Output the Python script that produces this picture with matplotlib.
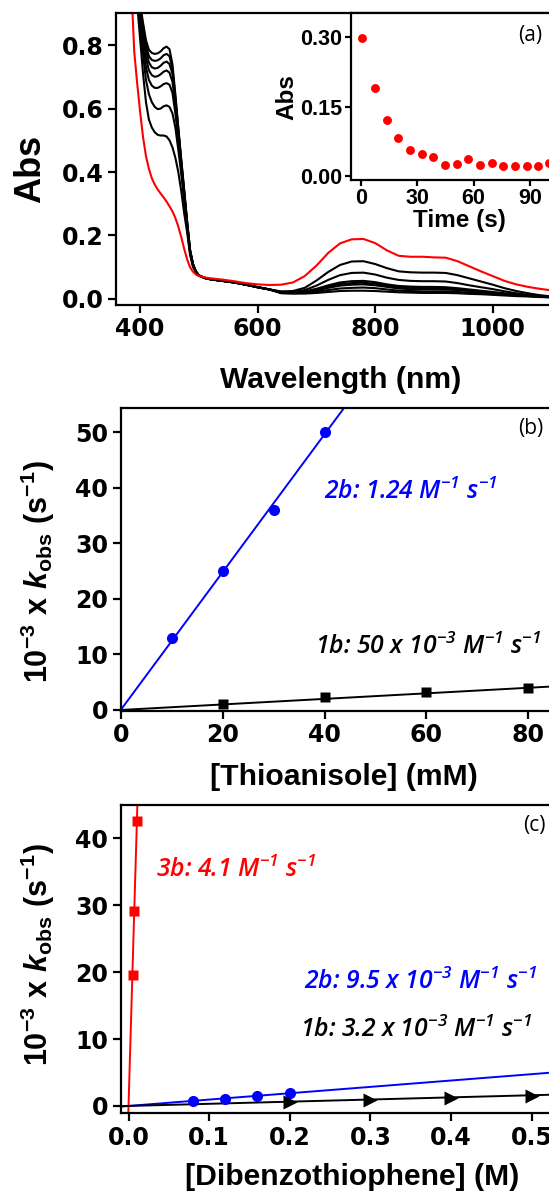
import numpy as np
import matplotlib
matplotlib.use("Agg")
import matplotlib.pyplot as plt

plt.rcParams['font.family'] = ['Liberation Sans', 'DejaVu Sans']
plt.rcParams['mathtext.fontset'] = 'custom'
plt.rcParams['mathtext.rm'] = 'Open Sans:italic:semibold'
plt.rcParams['mathtext.it'] = 'Open Sans:italic:semibold'
plt.rcParams['mathtext.bf'] = 'Liberation Sans:bold'
plt.rcParams['mathtext.sf'] = 'Liberation Sans:bold:italic'

# ---------------- (a) spectra ----------------
wl_uv = [380, 390, 395, 400, 405, 410, 415, 420, 425, 430, 435, 440, 445, 450,
         455, 460, 465, 470, 475, 480, 485, 490]
wl_mid = [495, 500, 510, 520, 540, 560, 580, 600, 620]
wl_nir = [640, 660, 680, 700, 720, 740, 760, 780, 800, 820, 840, 860, 880, 900,
          920, 940, 960, 980, 1000, 1020, 1040, 1060, 1080, 1100, 1150]

red_uv = [1.20, 0.78, 0.68, 0.59, 0.51, 0.45, 0.41, 0.38, 0.36, 0.345, 0.332, 0.32,
          0.307, 0.292, 0.276, 0.255, 0.228, 0.195, 0.158, 0.125, 0.10, 0.086]
red_mid = [0.077, 0.072, 0.068, 0.065, 0.061, 0.056, 0.050, 0.046, 0.044]
red_nir = [0.045, 0.052, 0.072, 0.105, 0.145, 0.175, 0.188, 0.189, 0.176, 0.153,
           0.136, 0.133, 0.133, 0.131, 0.130, 0.119, 0.103, 0.087, 0.072, 0.057,
           0.046, 0.038, 0.032, 0.027, 0.021]

black_uv = [
    [1.30, 1.10, 1.02, 0.93, 0.87, 0.815, 0.785, 0.775, 0.772, 0.774, 0.78, 0.79,
     0.795, 0.787, 0.74, 0.645, 0.54, 0.44, 0.345, 0.245, 0.155, 0.11],
    [1.30, 1.10, 1.01, 0.92, 0.86, 0.80, 0.765, 0.753, 0.75, 0.752, 0.758, 0.768,
     0.772, 0.765, 0.725, 0.635, 0.535, 0.435, 0.34, 0.243, 0.154, 0.11],
    [1.30, 1.09, 1.00, 0.91, 0.85, 0.785, 0.745, 0.73, 0.726, 0.728, 0.735, 0.744,
     0.748, 0.74, 0.71, 0.625, 0.53, 0.43, 0.335, 0.24, 0.152, 0.109],
    [1.30, 1.08, 0.99, 0.90, 0.84, 0.76, 0.72, 0.705, 0.70, 0.702, 0.708, 0.716,
     0.72, 0.713, 0.685, 0.61, 0.52, 0.425, 0.33, 0.235, 0.15, 0.108],
    [1.30, 1.07, 0.98, 0.88, 0.80, 0.73, 0.69, 0.672, 0.665, 0.665, 0.67, 0.677,
     0.68, 0.675, 0.65, 0.585, 0.50, 0.41, 0.32, 0.23, 0.148, 0.107],
    [1.30, 1.06, 0.96, 0.86, 0.77, 0.69, 0.645, 0.62, 0.605, 0.598, 0.60, 0.607,
     0.61, 0.605, 0.585, 0.54, 0.47, 0.395, 0.31, 0.225, 0.145, 0.105],
    [1.30, 1.04, 0.93, 0.82, 0.71, 0.62, 0.565, 0.54, 0.525, 0.517, 0.515, 0.515,
     0.512, 0.50, 0.478, 0.445, 0.40, 0.34, 0.27, 0.21, 0.14, 0.10],
]
black_mid = [0.086, 0.074, 0.066, 0.062, 0.057, 0.052, 0.045, 0.037, 0.030]
black_nir = [
    [0.018, 0.017, 0.017, 0.019, 0.022, 0.025, 0.026, 0.026, 0.025, 0.023, 0.021, 0.020,
     0.019, 0.019, 0.019, 0.018, 0.016, 0.015, 0.013, 0.011, 0.009, 0.008, 0.006, 0.005, 0.003],
    [0.019, 0.018, 0.019, 0.023, 0.028, 0.033, 0.035, 0.036, 0.034, 0.030, 0.026, 0.025,
     0.024, 0.024, 0.024, 0.022, 0.020, 0.018, 0.016, 0.013, 0.011, 0.009, 0.007, 0.005, 0.003],
    [0.020, 0.019, 0.021, 0.027, 0.035, 0.042, 0.045, 0.046, 0.043, 0.038, 0.033, 0.031,
     0.031, 0.031, 0.030, 0.028, 0.025, 0.022, 0.019, 0.015, 0.012, 0.010, 0.008, 0.006, 0.004],
    [0.020, 0.019, 0.022, 0.029, 0.039, 0.047, 0.050, 0.051, 0.048, 0.042, 0.037, 0.035,
     0.034, 0.034, 0.034, 0.031, 0.027, 0.024, 0.020, 0.016, 0.013, 0.010, 0.008, 0.006, 0.004],
    [0.021, 0.020, 0.024, 0.032, 0.043, 0.052, 0.056, 0.057, 0.053, 0.046, 0.041, 0.039,
     0.038, 0.038, 0.037, 0.034, 0.030, 0.026, 0.022, 0.018, 0.014, 0.011, 0.008, 0.006, 0.004],
    [0.022, 0.022, 0.028, 0.042, 0.060, 0.075, 0.082, 0.083, 0.077, 0.067, 0.060, 0.057,
     0.056, 0.056, 0.055, 0.050, 0.043, 0.037, 0.031, 0.024, 0.018, 0.013, 0.010, 0.007, 0.004],
    [0.024, 0.025, 0.035, 0.058, 0.085, 0.107, 0.118, 0.119, 0.110, 0.097, 0.087, 0.084,
     0.083, 0.083, 0.082, 0.075, 0.065, 0.055, 0.045, 0.034, 0.025, 0.018, 0.012, 0.008, 0.005],
]

# inset: decay at 770 nm
time_s = [0.9, 7.6, 13.8, 20.0, 26.2, 32.4, 38.6, 44.8, 51.0, 57.2, 63.4, 69.6,
          75.8, 82.0, 88.2, 94.4, 100.0]
abs_trace = [0.299, 0.191, 0.121, 0.082, 0.056, 0.047, 0.041, 0.023, 0.025, 0.037,
             0.023, 0.027, 0.022, 0.021, 0.022, 0.020, 0.027]

# ---------------- (b) thioanisole ----------------
thio_2b_mM = [10, 20, 30, 40]
thio_2b_k = [13, 25, 36, 50]
thio_1b_mM = [20, 40, 60, 80]
thio_1b_k = [1.0, 2.3, 3.2, 4.0]
k2_thio_2b = 1.24    # 10^-3 s^-1 per mM
k2_thio_1b = 0.05

# ---------------- (c) dibenzothiophene ----------------
dbt_3b_M = [0.005, 0.0072, 0.0104]
dbt_3b_k = [19.6, 29.2, 42.6]
dbt_2b_M = [0.08, 0.12, 0.16, 0.20]
dbt_2b_k = [0.8, 1.1, 1.45, 1.95]
dbt_1b_M = [0.2, 0.3, 0.4, 0.5]
dbt_1b_k = [0.55, 0.85, 1.15, 1.55]
k2_dbt_3b = 4100.0   # 10^-3 s^-1 per M
k2_dbt_2b = 9.5
k2_dbt_1b = 3.2

W, H = 549, 1196
fig = plt.figure(figsize=(W / 100, H / 100), dpi=100)


def box(l, t, r, b):
    return [l / W, 1 - b / H, (r - l) / W, (b - t) / H]


def fx(px):
    return px / W


def fy(py):
    return 1 - py / H


def style(ax, length=5.5, labelsize=17, family='DejaVu Sans'):
    for s in ax.spines.values():
        s.set_linewidth(1.6)
    ax.spines['right'].set_visible(False)
    ax.tick_params(direction='out', length=length, width=1.6, pad=3.5,
                   labelsize=labelsize, top=False, right=False)
    for lab in ax.get_xticklabels() + ax.get_yticklabels():
        lab.set_fontfamily(family)
        lab.set_fontweight('bold')


def rate_text(px, py, s, color):
    fig.text(fx(px), fy(py), s, color=color, family='Open Sans', style='italic',
             weight='semibold', fontsize=17.8, va='center')


# ---- panel (a)
ax = fig.add_axes(box(116, 13.3, 116 + 790 * 0.5885, 305))
wl = wl_uv + wl_mid + wl_nir
for uv, nir in zip(black_uv, black_nir):
    ax.plot(wl, uv + black_mid + nir, color='black', lw=1.5)
ax.plot(wl, red_uv + red_mid + red_nir, color='red', lw=1.5)
ax.set_xlim(359, 1150)
ax.set_ylim(-0.019, 0.9)
ax.set_xticks([400, 600, 800, 1000])
ax.set_yticks([0, 0.2, 0.4, 0.6, 0.8])
style(ax)
fig.text(fx(30.7), fy(169), 'Abs', rotation=90, ha='center', va='center',
         fontsize=26, fontweight='bold')
fig.text(fx(340.8), fy(380), 'Wavelength (nm)', ha='center', va='center',
         fontsize=21.7, fontweight='bold')

# inset
axi = fig.add_axes(box(350.7, 13.3, 350.7 + 115.3 * 56.5 / 30, 180))
axi.set_facecolor('white')
axi.plot(time_s, abs_trace, 'o', color='red', ms=6.4, mec='none')
axi.set_xlim(-5.3, 110)
axi.set_ylim(-0.0093, 0.352)
axi.set_xticks([0, 30, 60, 90])
axi.set_yticks([0, 0.15, 0.30])
style(axi, length=4, labelsize=15.5, family='Liberation Sans')
axi.tick_params(pad=2)
axi.set_xlabel('Time (s)', fontsize=17.5, fontweight='bold', labelpad=0)
axi.set_ylabel('Abs', fontsize=17.5, fontweight='bold', labelpad=1)
fig.text(fx(518.3), fy(35.7), '(a)', family='Open Sans', fontsize=15, va='center')

# ---- panel (b)
kobs_label = r'$\mathbf{10^{-3}\ x\ }\mathsf{k}_{\mathbf{obs}}\mathbf{\ (s^{-1})}$'
axb = fig.add_axes(box(120.7, 407.7, 120.7 + 90 * 5.095, 711))
xx = np.array([0, 90])
axb.plot(xx, k2_thio_2b * xx, color='blue', lw=1.4)
axb.plot(xx, k2_thio_1b * xx, color='black', lw=1.4)
axb.plot(thio_2b_mM, thio_2b_k, 'o', color='blue', ms=8, mec='none')
axb.plot(thio_1b_mM, thio_1b_k, 's', color='black', ms=7, mec='none')
axb.set_xlim(0, 90)
axb.set_ylim(-0.18, 54.4)
axb.set_xticks([0, 20, 40, 60, 80])
axb.set_yticks([0, 10, 20, 30, 40, 50])
style(axb)
fig.text(fx(37.5), fy(571.5), kobs_label, rotation=90, ha='center', va='center',
         fontsize=22)
fig.text(fx(343.8), fy(777), '[Thioanisole] (mM)', ha='center', va='center',
         fontsize=21.7, fontweight='bold')
rate_text(323.6, 491.7, '2b: 1.24 M$^{-1}$ s$^{-1}$', 'blue')
rate_text(314.9, 646.7, '1b: 50 x 10$^{-3}$ M$^{-1}$ s$^{-1}$', 'black')
fig.text(fx(517.8), fy(428.3), '(b)', family='Open Sans', fontsize=15, va='center')

# ---- panel (c)
axc = fig.add_axes(box(120.7, 805, 120.7 + 0.5697 * 806, 1113.3))
xc = np.array([-0.0097, 0.56])
axc.plot(xc, k2_dbt_3b * xc, color='red', lw=1.4)
axc.plot(xc, k2_dbt_2b * xc, color='blue', lw=1.4)
axc.plot(xc, k2_dbt_1b * xc, color='black', lw=1.4)
axc.plot(dbt_3b_M, dbt_3b_k, 's', color='red', ms=7.5, mec='none')
axc.plot(dbt_2b_M, dbt_2b_k, 'o', color='blue', ms=8, mec='none')
axc.plot(dbt_1b_M, dbt_1b_k, '>', color='black', ms=9.5, mec='none')
axc.set_xlim(-0.0097, 0.56)
axc.set_ylim(-1.1, 45)
axc.set_xticks([0, 0.1, 0.2, 0.3, 0.4, 0.5])
axc.set_yticks([0, 10, 20, 30, 40])
style(axc)
fig.text(fx(37.5), fy(955), kobs_label, rotation=90, ha='center', va='center',
         fontsize=22)
fig.text(fx(352.5), fy(1176.7), '[Dibenzothiophene] (M)', ha='center', va='center',
         fontsize=21.7, fontweight='bold')
rate_text(155.7, 870, '3b: 4.1 M$^{-1}$ s$^{-1}$', 'red')
rate_text(304.4, 981.7, '2b: 9.5 x 10$^{-3}$ M$^{-1}$ s$^{-1}$', 'blue')
rate_text(300.2, 1030, '1b: 3.2 x 10$^{-3}$ M$^{-1}$ s$^{-1}$', 'black')
fig.text(fx(523), fy(825), '(c)', family='Open Sans', fontsize=15, va='center')

fig.savefig('out.png', dpi=100)
